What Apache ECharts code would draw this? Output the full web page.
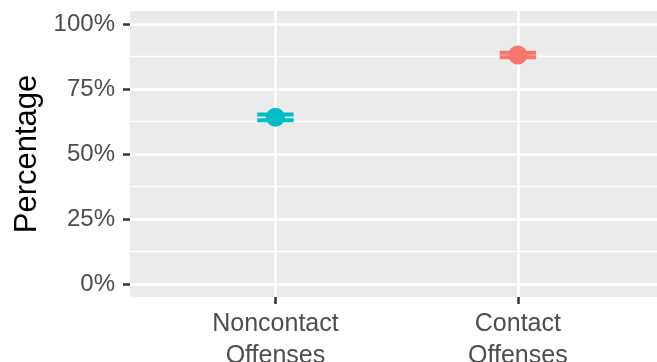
<!DOCTYPE html>
<html>
<head>
<meta charset="utf-8">
<script src="https://cdn.jsdelivr.net/npm/echarts@6/dist/echarts.min.js"></script>
<style>
  html, body { margin: 0; padding: 0; background: #ffffff; }
  #chart { width: 657px; height: 362px; }
</style>
</head>
<body>
<div id="chart"></div>
<script>
// Offense categories and their estimated percentages with confidence bounds
const categories = ['Noncontact\nOffenses', 'Contact\nOffenses'];
const percentValues = [64.1, 88.1];
const lowerBounds = [63.0, 87.2];
const upperBounds = [65.2, 88.9];
const pointColors = ['#00BFC4', '#F8766D'];
const yTickValues = [0, 25, 50, 75, 100];
const yMinorValues = [12.5, 37.5, 62.5, 87.5];

const FONT = '"Liberation Sans", Arial, Helvetica, sans-serif';

// x positions: category i sits at i + 1 on a continuous axis
const xPositions = categories.map((_, i) => i + 1);

const errorData = categories.map((_, i) => [xPositions[i], lowerBounds[i], upperBounds[i], i]);
const pointData = categories.map((_, i) => ({
  value: [xPositions[i], percentValues[i]],
  itemStyle: { color: pointColors[i], opacity: 1 }
}));

const chart = echarts.init(document.getElementById('chart'), null, { renderer: 'canvas' });

chart.setOption({
  animation: false,
  backgroundColor: '#ffffff',
  grid: {
    left: 130, right: 0, top: 11, bottom: 65,
    outerBoundsMode: 'none',
    containLabel: false,
    show: true, backgroundColor: '#EBEBEB', borderWidth: 0
  },
  xAxis: {
    type: 'value',
    min: 0.4, max: 2.574,
    axisLine: { show: false, onZero: false },
    axisTick: {
      show: true, customValues: xPositions, length: 7,
      lineStyle: { color: '#333333', width: 2.5 }
    },
    axisLabel: {
      customValues: xPositions,
      margin: 11,
      color: '#4D4D4D',
      fontFamily: FONT,
      fontSize: 25,
      lineHeight: 32,
      formatter: v => categories[Math.round(v) - 1] || ''
    },
    splitLine: { show: true, lineStyle: { color: '#ffffff', width: 2.7 } }
  },
  yAxis: [
    {
      type: 'value',
      min: -5, max: 105,
      name: 'Percentage',
      nameLocation: 'middle',
      nameRotate: 90,
      nameGap: 86,
      nameTextStyle: { color: '#000000', fontFamily: FONT, fontSize: 31 },
      axisLine: { show: false, onZero: false },
      axisTick: {
        show: true, customValues: yTickValues, length: 7,
        lineStyle: { color: '#333333', width: 2.5 }
      },
      axisLabel: {
        customValues: yTickValues,
        margin: 15,
        color: '#4D4D4D',
        fontFamily: FONT,
        fontSize: 24,
        formatter: v => v + '%'
      },
      splitLine: { show: true, lineStyle: { color: '#ffffff', width: 2.7 } }
    },
    {
      // minor horizontal grid lines
      type: 'value',
      min: -5, max: 105,
      position: 'left',
      axisLine: { show: false, onZero: false },
      axisTick: { show: false, customValues: yMinorValues },
      axisLabel: { show: false, customValues: yMinorValues },
      splitLine: { show: true, lineStyle: { color: '#ffffff', width: 1.3 } }
    }
  ],
  series: [
    {
      type: 'custom',
      z: 3,
      data: errorData,
      renderItem: function (params, api) {
        const x = api.value(0);
        const lo = api.value(1);
        const hi = api.value(2);
        const color = pointColors[api.value(3)];
        const half = 0.075;
        const pLo = api.coord([x, lo]);
        const pHi = api.coord([x, hi]);
        const pLoL = api.coord([x - half, lo]);
        const pLoR = api.coord([x + half, lo]);
        const pHiL = api.coord([x - half, hi]);
        const pHiR = api.coord([x + half, hi]);
        const style = { stroke: color, lineWidth: 4, fill: null };
        return {
          type: 'group',
          children: [
            { type: 'line', shape: { x1: pLo[0], y1: pLo[1], x2: pHi[0], y2: pHi[1] }, style },
            { type: 'line', shape: { x1: pLoL[0], y1: pLoL[1], x2: pLoR[0], y2: pLoR[1] }, style },
            { type: 'line', shape: { x1: pHiL[0], y1: pHiL[1], x2: pHiR[0], y2: pHiR[1] }, style }
          ]
        };
      }
    },
    {
      type: 'scatter',
      z: 4,
      symbol: 'circle',
      symbolSize: 19,
      itemStyle: { opacity: 1 },
      data: pointData
    }
  ]
});
</script>
</body>
</html>
